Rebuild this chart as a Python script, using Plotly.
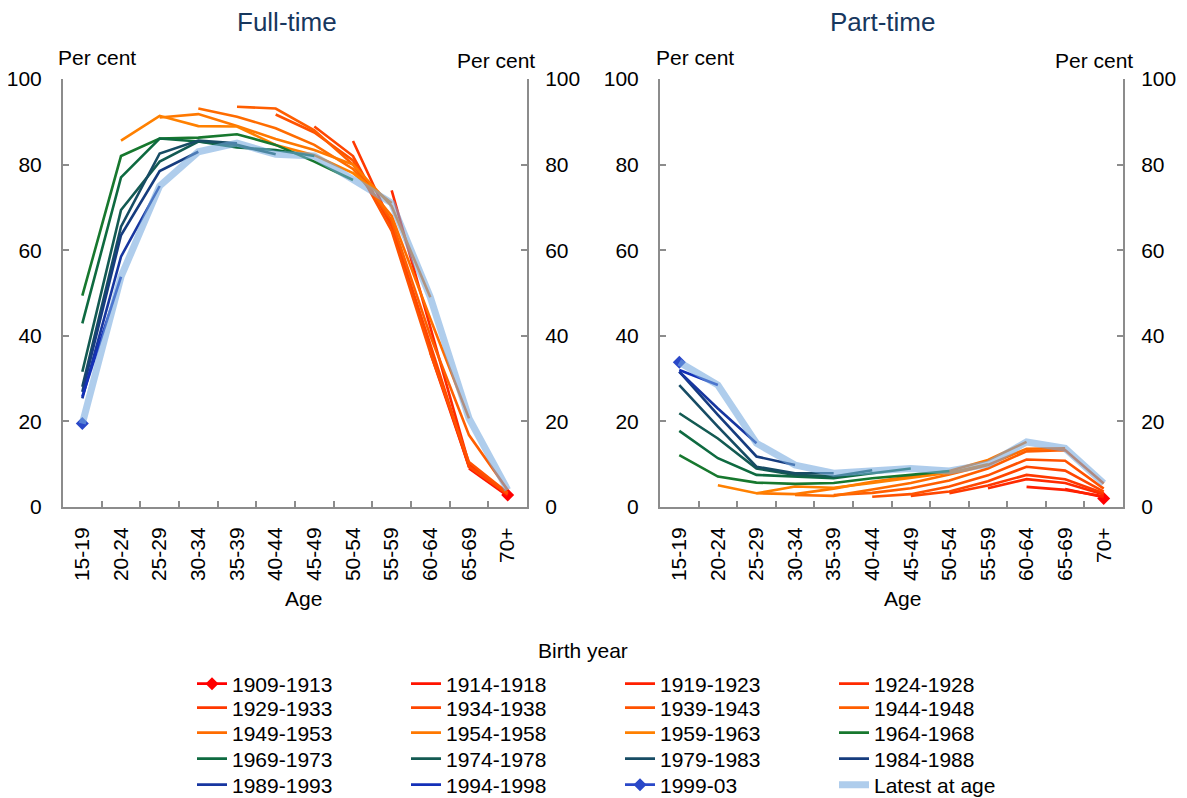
import plotly.graph_objects as go

W, H = 1187, 798
OFFSET = 8  # the page body adds 8 px before the figure

AGE_GROUPS = ["15-19", "20-24", "25-29", "30-34", "35-39", "40-44",
              "45-49", "50-54", "55-59", "60-64", "65-69", "70+"]

COHORTS = ["1909-1913", "1914-1918", "1919-1923", "1924-1928",
           "1929-1933", "1934-1938", "1939-1943", "1944-1948",
           "1949-1953", "1954-1958", "1959-1963", "1964-1968",
           "1969-1973", "1974-1978", "1979-1983", "1984-1988",
           "1989-1993", "1994-1998", "1999-03"]

COLORS = ["#FF0000", "#FF1400", "#FF2000", "#FF2A00",
          "#FF3800", "#FF4600", "#FF5200", "#FF5E00",
          "#FF6C00", "#FF7800", "#FF8000", "#17782E",
          "#0E6A40", "#135A52", "#174C64", "#163C7E",
          "#1736A0", "#1330B8", "#2A48C8"]

N = None
# Full-time rates (per cent), by age group
ft_1909_1913 = [N, N, N, N, N, N, N, N, N, N, N, 2.8]
ft_1914_1918 = [N, N, N, N, N, N, N, N, N, N, 9.0, 2.6]
ft_1919_1923 = [N, N, N, N, N, N, N, N, N, 36.0, 9.5, 3.0]
ft_1924_1928 = [N, N, N, N, N, N, N, N, 74.0, 42.0, 10.0, 3.0]
ft_1929_1933 = [N, N, N, N, N, N, N, 85.5, 66.0, 37.0, 9.3, 3.2]
ft_1934_1938 = [N, N, N, N, N, N, 88.9, 82.0, 65.5, 38.0, 9.5, 3.0]
ft_1939_1943 = [N, N, N, N, N, 91.7, 87.5, 81.0, 64.5, 36.0, 10.5, 3.3]
ft_1944_1948 = [N, N, N, N, 93.5, 93.1, 88.0, 80.0, 67.0, 40.0, 16.8, 4.0]
ft_1949_1953 = [N, N, N, 93.1, 91.2, 88.5, 84.6, 79.0, 68.0, 44.0, 20.7, N]
ft_1954_1958 = [N, N, 91.0, 91.8, 89.0, 86.0, 83.4, 80.0, 70.3, 49.0, N, N]
ft_1959_1963 = [N, 85.6, 91.4, 89.0, 88.9, 84.6, 82.2, 78.0, 71.0, N, N, N]
ft_1964_1968 = [49.4, 82.0, 86.1, 86.3, 87.1, 84.6, 80.7, 76.4, N, N, N, N]
ft_1969_1973 = [42.9, 77.0, 86.1, 85.4, 84.0, 83.4, 82.0, N, N, N, N, N]
ft_1974_1978 = [31.6, 69.4, 80.7, 85.4, 84.6, 82.4, N, N, N, N, N, N]
ft_1979_1983 = [28.1, 65.5, 82.6, 85.6, 85.0, N, N, N, N, N, N, N]
ft_1984_1988 = [26.9, 63.5, 78.5, 83.0, N, N, N, N, N, N, N, N]
ft_1989_1993 = [25.4, 58.5, 75.0, N, N, N, N, N, N, N, N, N]
ft_1994_1998 = [25.8, 53.8, N, N, N, N, N, N, N, N, N, N]
ft_1999_2003 = [19.5, N, N, N, N, N, N, N, N, N, N, N]
ft_latest = [19.5, 53.8, 75.0, 83.0, 85.0, 82.4, 82.0, 76.4, 71.0, 49.0, 20.7, 4.0]

# Part-time rates (per cent), by age group
pt_1909_1913 = [N, N, N, N, N, N, N, N, N, N, N, 2.0]
pt_1914_1918 = [N, N, N, N, N, N, N, N, N, N, 4.2, 2.3]
pt_1919_1923 = [N, N, N, N, N, N, N, N, N, 4.7, 4.0, 2.5]
pt_1924_1928 = [N, N, N, N, N, N, N, N, 4.4, 6.5, 5.6, 2.9]
pt_1929_1933 = [N, N, N, N, N, N, N, 3.2, 5.0, 7.5, 6.5, 3.2]
pt_1934_1938 = [N, N, N, N, N, N, 2.6, 3.6, 6.0, 9.4, 8.5, 3.6]
pt_1939_1943 = [N, N, N, N, N, 2.4, 3.0, 4.8, 7.4, 11.1, 10.8, 4.3]
pt_1944_1948 = [N, N, N, N, 2.8, 3.3, 4.4, 6.2, 9.0, 13.0, 13.3, 5.5]
pt_1949_1953 = [N, N, N, 2.8, 2.6, 4.1, 5.6, 7.6, 9.8, 13.6, 13.7, N]
pt_1954_1958 = [N, N, 3.2, 3.0, 4.3, 5.9, 7.1, 8.4, 11.0, 15.2, N, N]
pt_1959_1963 = [N, 5.1, 3.2, 4.8, 4.5, 5.6, 6.8, 8.0, 10.0, N, N, N]
pt_1964_1968 = [12.1, 7.1, 5.7, 5.4, 5.6, 6.7, 7.5, 8.4, N, N, N, N]
pt_1969_1973 = [17.8, 11.4, 7.5, 7.1, 6.7, 7.9, 9.0, N, N, N, N, N]
pt_1974_1978 = [21.9, 16.0, 9.0, 7.5, 7.1, 8.6, N, N, N, N, N, N]
pt_1979_1983 = [28.5, 18.8, 9.4, 7.9, 7.9, N, N, N, N, N, N, N]
pt_1984_1988 = [31.6, 21.5, 11.8, 9.8, N, N, N, N, N, N, N, N]
pt_1989_1993 = [31.6, 23.0, 14.9, N, N, N, N, N, N, N, N, N]
pt_1994_1998 = [32.0, 28.5, N, N, N, N, N, N, N, N, N, N]
pt_1999_2003 = [33.8, N, N, N, N, N, N, N, N, N, N, N]
pt_latest = [33.8, 28.5, 14.9, 9.8, 7.9, 8.6, 9.0, 8.4, 10.0, 15.2, 13.7, 5.5]

FT_SERIES = [ft_1909_1913, ft_1914_1918, ft_1919_1923, ft_1924_1928,
             ft_1929_1933, ft_1934_1938, ft_1939_1943, ft_1944_1948,
             ft_1949_1953, ft_1954_1958, ft_1959_1963, ft_1964_1968,
             ft_1969_1973, ft_1974_1978, ft_1979_1983, ft_1984_1988,
             ft_1989_1993, ft_1994_1998, ft_1999_2003]
PT_SERIES = [pt_1909_1913, pt_1914_1918, pt_1919_1923, pt_1924_1928,
             pt_1929_1933, pt_1934_1938, pt_1939_1943, pt_1944_1948,
             pt_1949_1953, pt_1954_1958, pt_1959_1963, pt_1964_1968,
             pt_1969_1973, pt_1974_1978, pt_1979_1983, pt_1984_1988,
             pt_1989_1993, pt_1994_1998, pt_1999_2003]

FONT = "Liberation Sans, Arial, sans-serif"
AXIS_GREY = "#8C8C8C"
LATEST_COLOR = "rgba(118,168,222,0.58)"
TITLE_COLOR = "#17375E"


def px(x):
    return (x - OFFSET) / W


def py(y):
    return 1 - (y - OFFSET) / H


def legend_name(i):
    row = i // 4
    return "legend" if row == 0 else f"legend{row + 1}"


fig = go.Figure()

panels = [("x", "y", FT_SERIES, ft_latest), ("x2", "y2", PT_SERIES, pt_latest)]
for p, (xa, ya, series, latest) in enumerate(panels):
    for i, (name, vals, col) in enumerate(zip(COHORTS, series, COLORS)):
        marked = name in ("1909-1913", "1999-03")
        fig.add_trace(go.Scatter(
            x=AGE_GROUPS, y=vals, name=name, xaxis=xa, yaxis=ya,
            mode="lines+markers" if marked else "lines",
            line=dict(color=col, width=2.6),
            marker=dict(symbol="diamond", size=10, color=col),
            legendgroup=name, showlegend=(p == 0), legend=legend_name(i),
            hoverinfo="skip"))
    fig.add_trace(go.Scatter(
        x=AGE_GROUPS, y=latest, name="Latest at age", xaxis=xa, yaxis=ya,
        mode="lines", line=dict(color=LATEST_COLOR, width=7),
        legendgroup="latest", showlegend=(p == 0), legend=legend_name(19),
        hoverinfo="skip"))

# invisible traces so the right-hand axes are drawn
for xa, ya in [("x", "y3"), ("x2", "y4")]:
    fig.add_trace(go.Scatter(x=[AGE_GROUPS[0]], y=[None], xaxis=xa, yaxis=ya,
                             mode="lines", showlegend=False, hoverinfo="skip"))

ydom = [py(507), py(79)]
xcommon = dict(type="category", categoryorder="array", categoryarray=AGE_GROUPS,
               range=[-0.5, 11.5], tickson="boundaries", ticks="inside",
               ticklen=6, tickwidth=1.5, tickcolor=AXIS_GREY, showline=True,
               linecolor=AXIS_GREY, linewidth=2, tickangle=-90,
               tickfont=dict(family=FONT, size=21, color="black"),
               showgrid=False, zeroline=False, ticklabelstandoff=10,
               fixedrange=True)
ycommon = dict(range=[0, 100], dtick=20, ticks="inside", ticklen=6,
               tickwidth=1.5, tickcolor=AXIS_GREY, showline=True,
               linecolor=AXIS_GREY, linewidth=2, showgrid=False,
               zeroline=False, tickfont=dict(family=FONT, size=21, color="black"),
               fixedrange=True)

fig.update_layout(
    width=W, height=H,
    margin=dict(l=0, r=0, t=0, b=0, autoexpand=False),
    paper_bgcolor="white", plot_bgcolor="white",
    font=dict(family=FONT, size=21, color="black"),
    xaxis=dict(domain=[px(63), px(527)], anchor="y", **xcommon),
    xaxis2=dict(domain=[px(660), px(1123)], anchor="y2", **xcommon),
    yaxis=dict(domain=ydom, anchor="x", side="left", ticklabelstandoff=15, **ycommon),
    yaxis2=dict(domain=ydom, anchor="x2", side="left", ticklabelstandoff=15, **ycommon),
    yaxis3=dict(domain=ydom, anchor="x", overlaying="y", side="right",
                ticklabelstandoff=12, **ycommon),
    yaxis4=dict(domain=ydom, anchor="x2", overlaying="y2", side="right",
                ticklabelstandoff=12, **ycommon),
    showlegend=True,
)

row_y = [684, 708, 733, 759, 785]
for r, yy in enumerate(row_y):
    key = "legend" if r == 0 else f"legend{r + 1}"
    fig.update_layout({key: dict(
        orientation="h", x=px(192), xanchor="left", y=py(yy), yanchor="middle",
        entrywidth=169, entrywidthmode="pixels", itemwidth=30,
        font=dict(family=FONT, size=21, color="black"),
        bgcolor="rgba(0,0,0,0)", borderwidth=0, traceorder="normal",
        itemclick=False, itemdoubleclick=False)})

annots = [
    dict(text="Full-time", x=px(287), y=py(22), font=dict(size=26, color=TITLE_COLOR)),
    dict(text="Part-time", x=px(882), y=py(22), font=dict(size=26, color=TITLE_COLOR)),
    dict(text="Per cent", x=px(97), y=py(58)),
    dict(text="Per cent", x=px(496), y=py(60)),
    dict(text="Per cent", x=px(695), y=py(58)),
    dict(text="Per cent", x=px(1094), y=py(60)),
    dict(text="Age", x=px(303), y=py(598)),
    dict(text="Age", x=px(902), y=py(598)),
    dict(text="Birth year", x=px(583), y=py(650)),
]
for a in annots:
    f = dict(family=FONT, size=21, color="black")
    f.update(a.pop("font", {}))
    fig.add_annotation(xref="paper", yref="paper", xanchor="center",
                       yanchor="middle", showarrow=False, font=f, **a)

fig.write_html("out.html", config={"displayModeBar": False})
